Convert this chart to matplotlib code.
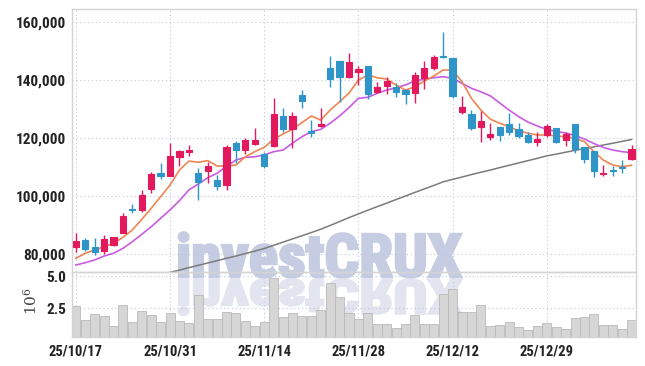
import numpy as np
import matplotlib
matplotlib.use("Agg")
import matplotlib.pyplot as plt
from matplotlib import font_manager
from matplotlib.textpath import TextPath
from matplotlib.patches import PathPatch
from matplotlib.font_manager import FontProperties
from matplotlib.transforms import Affine2D

# trading days shown (KRX)
dates = ["25/10/17", "25/10/20", "25/10/21", "25/10/22", "25/10/23", "25/10/24",
         "25/10/27", "25/10/28", "25/10/29", "25/10/30", "25/10/31",
         "25/11/03", "25/11/04", "25/11/05", "25/11/06", "25/11/07",
         "25/11/10", "25/11/11", "25/11/12", "25/11/13", "25/11/14",
         "25/11/17", "25/11/18", "25/11/19", "25/11/20", "25/11/21",
         "25/11/24", "25/11/25", "25/11/26", "25/11/27", "25/11/28",
         "25/12/01", "25/12/02", "25/12/03", "25/12/04", "25/12/05",
         "25/12/08", "25/12/09", "25/12/10", "25/12/11", "25/12/12",
         "25/12/15", "25/12/16", "25/12/17", "25/12/18", "25/12/19",
         "25/12/22", "25/12/23", "25/12/24", "25/12/26", "25/12/29",
         "25/12/30", "26/01/02", "26/01/05", "26/01/06", "26/01/07",
         "26/01/08", "26/01/09", "26/01/12", "26/01/13"]

opens = [82400, 84950, 82650, 81250, 83300, 87450, 95600, 95300, 102600, 108150,
         107100, 113650, 115300, 108150, 108850, 105600, 103900, 118500, 115950, 118050,
         114600, 117350, 127700, 123100, 134950, 122600, 124350, 144350, 146650, 141250,
         142950, 144950, 136050, 138150, 137600, 136650, 135500, 140700, 144150, 148400,
         147600, 129150, 128400, 124000, 120550, 124000, 124950, 123100, 121150, 118850,
         121150, 123450, 119400, 124950, 117100, 115750, 107600, 109050, 110200, 112850]
highs = [87450, 85500, 85500, 86650, 86100, 94150, 97350, 102200, 108500, 111400,
         118300, 116100, 117700, 109650, 111750, 107350, 117700, 119050, 120200, 123450,
         115400, 133800, 130350, 129200, 136650, 126300, 130350, 148400, 146650, 149300,
         144950, 144950, 139500, 141250, 139150, 137000, 142750, 146750, 148700, 156550,
         147600, 134600, 129750, 129500, 125400, 124000, 128600, 125400, 122300, 122050,
         124950, 123450, 122050, 124950, 117100, 115750, 110800, 110550, 112500, 117700]
lows = [80900, 81250, 79750, 80100, 83000, 87250, 94350, 94600, 101050, 105850,
        106900, 110450, 113900, 98750, 104500, 102200, 102200, 111400, 114600, 117700,
        109650, 117100, 122300, 116550, 130350, 120350, 123800, 137800, 132600, 140800,
        138400, 133450, 135500, 135300, 134150, 131850, 132300, 136900, 143550, 147600,
        133800, 128400, 122850, 118850, 119400, 119200, 121150, 119950, 118300, 117450,
        120550, 118300, 117350, 114850, 111600, 106550, 107100, 107100, 107950, 112500]
closes = [84600, 81750, 80800, 85300, 85850, 93200, 95300, 100450, 107700, 107100,
          113900, 115600, 116000, 105050, 110450, 103650, 117100, 115950, 119400, 119400,
          110450, 128500, 123100, 127700, 132950, 121750, 124950, 140450, 141250, 146200,
          143900, 135150, 137600, 139750, 136050, 135150, 141850, 144150, 147950, 147950,
          134700, 130900, 123650, 125950, 121400, 121150, 122300, 120900, 118850, 119650,
          124250, 118850, 121500, 116200, 112850, 108850, 108150, 108750, 109850, 116300]

# volume, millions of shares
volume = [2.68, 1.58, 2.05, 1.89, 1.11, 2.76, 1.42, 2.29, 1.97, 1.42,
          2.13, 1.50, 1.34, 3.55, 1.66, 1.66, 2.21, 2.13, 1.50, 1.11,
          1.42, 4.87, 1.82, 2.13, 1.89, 1.89, 2.37, 4.47, 3.37, 2.11,
          1.63, 2.11, 1.26, 1.26, 0.92, 1.26, 1.97, 1.26, 1.26, 3.63,
          3.95, 2.18, 2.18, 2.76, 1.11, 1.18, 1.42, 1.00, 0.79, 1.11,
          1.34, 1.03, 0.87, 1.74, 1.82, 2.05, 1.18, 1.18, 0.87, 1.58]

# moving averages
ma5 = [78600, 80350, 81500, 82600, 83800, 85850, 88400, 92050, 95850, 99850,
       103900, 109050, 112150, 111750, 112300, 110450, 110450, 110800, 113650, 115400,
       116900, 119650, 121500, 123100, 125400, 127700, 126300, 129750, 132600, 135600,
       140100, 141850, 140900, 140450, 138400, 136650, 137800, 139750, 141500, 143550,
       143550, 139500, 133800, 129750, 126600, 125200, 124000, 122600, 121750, 121150,
       121150, 120800, 120550, 120000, 118850, 115400, 112500, 110800, 110200, 110700]
ma10 = [76300, 77100, 78050, 79400, 80350, 82050, 84350, 86900, 89500, 92400,
        95300, 98500, 102200, 104250, 106400, 107950, 110450, 112500, 113450, 113650,
        114250, 115400, 115950, 118300, 120550, 122300, 123100, 125200, 127700, 130600,
        133800, 134150, 135500, 136650, 137450, 138400, 139850, 140350, 140900, 141250,
        140700, 138950, 137250, 136050, 134650, 132200, 129750, 127500, 125600, 124250,
        123050, 122350, 121850, 120950, 119750, 118200, 116850, 115950, 115400, 115050]
ma60 = [np.nan] * 9 + [
        73150, 73750, 74550, 75400, 76200, 77000, 77800, 78650, 79400, 80250,
        81100, 82000, 83100, 84200, 85300, 86400, 87500, 88650, 89950, 91300,
        92650, 93950, 95200, 96450, 97650, 98900, 100100, 101350, 102550, 103750,
        105000, 105850, 106650, 107500, 108300, 109050, 109900, 110700, 111500, 112300,
        113100, 113950, 114550, 115200, 115850, 116450, 117050, 117700, 118300, 118950,
        119600]

price_ticks = [80000, 100000, 120000, 140000, 160000]
vol_ticks = [2.5, 5.0]
date_ticks = [0, 10, 20, 30, 40, 50]

UP = "#e3195e"
DOWN = "#2f95c9"
GRID = "#c3c7da"


def pick_font():
    # narrowest bold-ish face that is installed, in order of preference
    fonts = font_manager.fontManager.ttflist
    wanted = ["roboto condensed", "open sans condensed", "liberation sans narrow",
              "noto sans condensed", "dejavu sans condensed"]
    for key in wanted:
        for f in fonts:
            label = f.name.lower()
            if f.stretch in ("condensed", "semi-condensed") and "condensed" not in label:
                label += " condensed"
            if label.startswith(key) and f.weight in ("bold", 700, "semibold", 600, "medium", 500):
                return FontProperties(fname=f.fname), key
    return FontProperties(family="Liberation Sans", weight="bold"), "plain"


tick_fp, which = pick_font()
if which == "dejavu sans condensed":
    ysize, dsize = 10.5, 9.5
elif which == "plain":
    ysize, dsize = 10, 9.5
else:
    ysize, dsize = 11, 10.5

W, H = 645, 366
fig = plt.figure(figsize=(W / 100, H / 100), dpi=100)
fig.patch.set_facecolor("white")

ax = fig.add_axes([71.5 / W, 1 - 271.7 / H, 564.5 / W, 262.4 / H])
vax = fig.add_axes([71.5 / W, 1 - 337.3 / H, 564.5 / W, 65.6 / H], sharex=ax)

x = np.arange(len(dates))
o = np.array(opens)
c = np.array(closes)
colors = [UP if cc >= oo else DOWN for oo, cc in zip(o, c)]

# moving averages under the candles
ax.plot(x, ma60, color="#7b7b7b", lw=1.1, zorder=2)
ax.plot(x, ma10, color="#c95be3", lw=1.2, zorder=2)
ax.plot(x, ma5, color="#ef8652", lw=1.2, zorder=2)

ax.vlines(x, lows, highs, colors=colors, lw=1.0, zorder=3)
ax.bar(x, np.abs(c - o), bottom=np.minimum(o, c), width=0.66, color=colors,
       edgecolor=colors, linewidth=0.8, zorder=4)

vax.bar(x, volume, width=0.96, color="#d6d6d6", edgecolor="#b9b9b9",
        linewidth=0.6, zorder=2)

ax.set_xlim(-0.46, len(dates) - 0.53)
ax.set_ylim(74000, 164500)
vax.set_ylim(0.21, 5.34)

for a in (ax, vax):
    a.set_facecolor("none")
    a.grid(True, color=GRID, linestyle=(0, (1, 2.5)), linewidth=0.8)
    a.set_axisbelow(True)
    a.tick_params(length=0, pad=4, labelcolor="#222222")
    for s in a.spines.values():
        s.set_color("#d4d4d4")
        s.set_linewidth(1.0)

ax.set_yticks(price_ticks)
ax.set_yticklabels([f"{p:,}" for p in price_ticks], fontproperties=tick_fp, fontsize=ysize)
ax.set_xticks(date_ticks)
ax.tick_params(axis="x", labelbottom=False)

vax.set_yticks(vol_ticks)
vax.set_yticklabels([f"{v:.1f}" for v in vol_ticks], fontproperties=tick_fp, fontsize=ysize)
vax.set_xticks(date_ticks)
vax.set_xticklabels([dates[i] for i in date_ticks], fontproperties=tick_fp, fontsize=dsize)
vax.tick_params(axis="x", pad=5)

fig.text(31 / W, 1 - 301 / H, r"$10^{6}$", rotation=90, ha="center", va="center",
         fontsize=11, color="#444444", math_fontfamily="dejavuserif")

# watermark with reflection, drawn behind the axes
wm_fp = tick_fp if which != "plain" else FontProperties(family="Liberation Sans", weight="bold")
wm = TextPath((0, 0), "investCRUX", size=100, prop=wm_fp)
ext = wm.get_extents()
kx = 282 / ext.width
ky = 44 / TextPath((0, 0), "C", size=100, prop=wm_fp).get_extents().height
to_fig = Affine2D().scale(1 / W, 1 / H) + fig.transFigure
main_tr = Affine2D().translate(-ext.x0, 0).scale(kx, ky).translate(179, H - 277) + to_fig
refl_tr = Affine2D().translate(-ext.x0, 0).scale(kx, -ky * 0.78).translate(179, H - 280) + to_fig
fig.add_artist(PathPatch(wm, transform=main_tr, facecolor="#c6cde3", edgecolor="#c6cde3",
                         linewidth=2.0, zorder=-1))
fig.add_artist(PathPatch(wm, transform=refl_tr, facecolor="#e2e5ef", edgecolor="#e2e5ef",
                         linewidth=2.0, zorder=-1))

fig.savefig("out.png", dpi=100)
